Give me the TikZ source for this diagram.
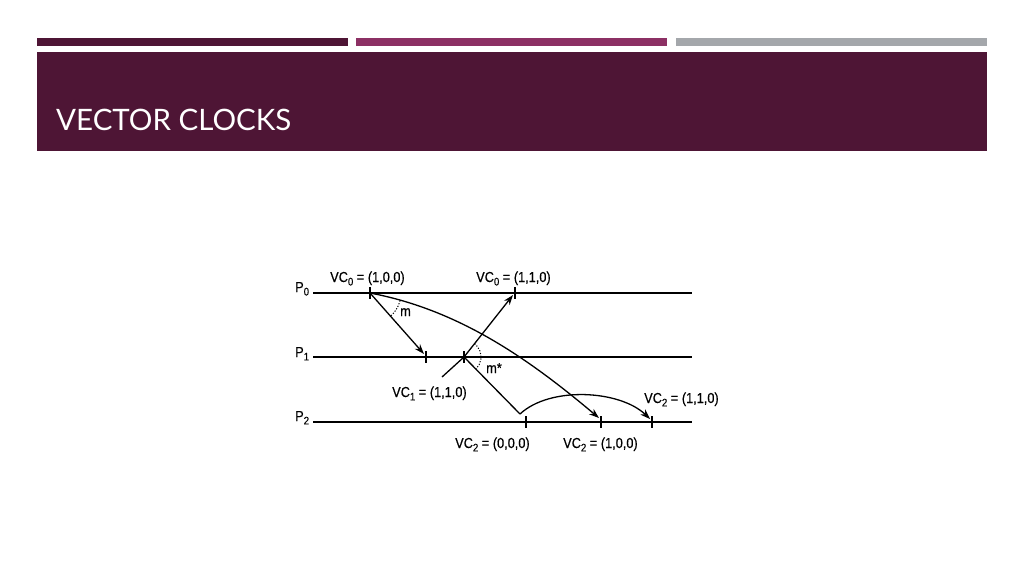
\documentclass[tikz,border=0pt]{standalone}
\usepackage{fontspec}
\setmainfont{Liberation Sans}
\newfontfamily\lblfont[FakeStretch=0.88,FakeBold=0.4]{Liberation Sans}
\newfontfamily\titlefont{Lato}
\usetikzlibrary{arrows.meta}
\definecolor{plum}{HTML}{4E1535}
\definecolor{berry}{HTML}{8C3064}
\definecolor{bargray}{HTML}{A4A7AB}
\newcommand\lowsub[1]{\raisebox{-0.45ex}{\fontsize{11}{11}\selectfont #1}}
\begin{document}
\begin{tikzpicture}[x=1pt,y=-1pt,
  proc/.style={line width=1.6pt},
  tickmark/.style={line width=1.5pt},
  plain/.style={line width=1.3pt},
  msg/.style={line width=1.3pt,-{Stealth[length=10pt,width=7pt]}},
  lbl/.style={font=\lblfont\fontsize{14.5}{14.5}\selectfont, inner sep=0pt, anchor=base west},
  angarc/.style={dash pattern=on 1.2pt off 1.6pt, line width=1pt}]
\useasboundingbox (0,0) rectangle (1024,576);
\fill[white] (0,0) rectangle (1024,576);
% header bars
\fill[plum] (37,38) rectangle (348,46);
\fill[berry] (356,38) rectangle (667,46);
\fill[bargray] (676,38) rectangle (987,46);
\fill[plum] (37,52) rectangle (987,151);
\node[anchor=base west, text=white, inner sep=0pt, font=\titlefont\fontsize{29.5}{29.5}\selectfont] (title) at (56,130) {VECTOR CLOCKS};
% process lines
\coordinate (p0s) at (313,293); \coordinate (p0e) at (692,293);
\coordinate (p1s) at (313,357); \coordinate (p1e) at (692,357);
\coordinate (p2s) at (313,422); \coordinate (p2e) at (692,422);
\draw[proc] (p0s) -- (p0e);
\draw[proc] (p1s) -- (p1e);
\draw[proc] (p2s) -- (p2e);
\node[lbl] (P0) at (295,292) {P\lowsub{0}};
\node[lbl] (P1) at (295,357) {P\lowsub{1}};
\node[lbl] (P2) at (295,421) {P\lowsub{2}};
% events
\coordinate (a) at (370,293);
\coordinate (b) at (515,293);
\coordinate (c) at (426,357);
\coordinate (d) at (464,357);
\coordinate (e) at (526,422);
\coordinate (f) at (601,422);
\coordinate (g) at (652,422);
\coordinate (tail) at (442,377);
\coordinate (bend) at (520,414);
\foreach \t in {a,b,c,d,e,f,g}{\draw[tickmark] (\t) ++(0,-6) -- ++(0,12);}
% messages
\draw[msg] (a) -- ([shift={(-2,-3)}]c);
\draw[plain] (tail) -- (d);
\draw[msg] (d) -- ([shift={(-2,2)}]b);
\draw[plain] (d) -- (bend);
\draw[msg] (bend) .. controls (550,386) and (620,390) .. ([shift={(-2,-3)}]g);
\draw[msg] (a) .. controls (460,310) and (530,360) .. ([shift={(-2,-4)}]f);
% angle marks
\draw[angarc] (a) ++(14:31) arc[start angle=14, end angle=49, radius=31];
\draw[angarc] (d) ++(-52:17) arc[start angle=-52, end angle=45, radius=17];
% labels
\node[lbl] (m) at (400,316) {m};
\node[lbl] (mstar) at (486,373) {m*};
\node[lbl] (vc0a) at (330,282) {VC\lowsub{0} = (1,0,0)};
\node[lbl] (vc0b) at (476,282) {VC\lowsub{0} = (1,1,0)};
\node[lbl] (vc1) at (392,397) {VC\lowsub{1} = (1,1,0)};
\node[lbl] (vc2a) at (455,448) {VC\lowsub{2} = (0,0,0)};
\node[lbl] (vc2b) at (563,448) {VC\lowsub{2} = (1,0,0)};
\node[lbl] (vc2c) at (644,403) {VC\lowsub{2} = (1,1,0)};
\end{tikzpicture}
\end{document}
